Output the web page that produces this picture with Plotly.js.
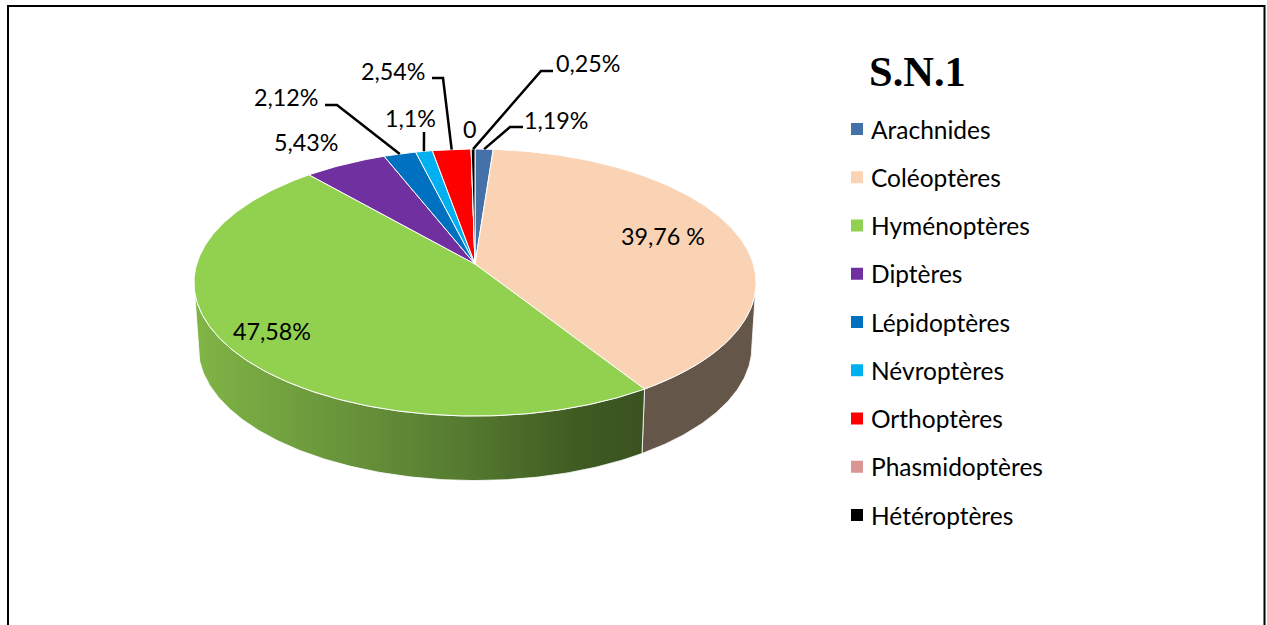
<!DOCTYPE html>
<html>
<head>
<meta charset="utf-8">
<script src="https://cdn.plot.ly/plotly-3.0.1.min.js"></script>
<style>
  html, body { margin: 0; padding: 0; background: #fff; overflow: hidden; }
</style>
</head>
<body>
<div id="graph" style="width:1267px;height:625px"></div>
<script>
const categories = ['Arachnides', 'Coléoptères', 'Hyménoptères', 'Diptères', 'Lépidoptères', 'Névroptères', 'Orthoptères', 'Phasmidoptères', 'Hétéroptères'];
const percents = [1.19, 39.76, 47.58, 5.43, 2.12, 1.1, 2.54, 0, 0.25];
const valueLabels = ['1,19%', '39,76 %', '47,58%', '5,43%', '2,12%', '1,1%', '2,54%', '0', '0,25%'];
const colors = ['#4472A8', '#FAD3B5', '#92D050', '#7030A0', '#0070C0', '#00B0F0', '#FF0000', '#D99694', '#000000'];
const titleText = 'S.N.1';

// label centre, then the elbow of the leader line if there is one
const labelSpots = [
    { x: 556, y: 120, from: [[523, 127], [510, 127]] },
    { x: 663, y: 236 },
    { x: 272, y: 331 },
    { x: 306, y: 142 },
    { x: 286, y: 97, from: [[325, 105], [337, 105]] },
    { x: 410, y: 118, from: [[424, 132]] },
    { x: 393, y: 71, from: [[432, 78], [443, 78]] },
    { x: 470, y: 129 },
    { x: 588, y: 63, from: [[553, 71], [541, 71]] }
];

// pie projection, the near side of the disc is larger than the far side
const cx = 475, cy = 264, rx = 278.3, ry = 130.9, persp = 0.139;
const depth = 64.5, wallScale = 0.985;

function rim(theta) {
    const u = Math.sin(theta), v = -Math.cos(theta);
    const d = 1 - persp * v;
    return [cx + rx * u / d, cy + ry * v / d];
}

function angles(a, b) {
    const out = [];
    const n = Math.max(2, Math.ceil((b - a) * 90));
    for (let i = 0; i <= n; i++) out.push(a + (b - a) * i / n);
    return out;
}

const total = percents.reduce((s, p) => s + p, 0);
const traces = [];
const annotations = [];
const frontStart = Math.acos(-persp);
const frontEnd = 2 * Math.PI - frontStart;

let cum = 0;
const slices = percents.map(p => {
    const a = cum / total * 2 * Math.PI;
    cum += p;
    return { a: a, b: cum / total * 2 * Math.PI };
});

// side wall first, only the part facing the viewer
slices.forEach((s, i) => {
    const a = Math.max(s.a, frontStart), b = Math.min(s.b, frontEnd);
    if (b <= a) return;
    const top = angles(a, b).map(rim);
    const bottom = top.map(p => [cx + (p[0] - cx) * wallScale, p[1] + depth]).reverse();
    const pts = top.concat(bottom);
    pts.push(pts[0]);
    const t = {
        x: pts.map(p => p[0]), y: pts.map(p => p[1]),
        mode: 'lines', fill: 'toself',
        line: { color: '#FFFFFF', width: 0.8 },
        hoverinfo: 'skip', showlegend: false
    };
    if (i === 2) {
        t.fillcolor = '#6F9A3D';
        t.fillgradient = { type: 'horizontal', colorscale: [[0, '#80B546'], [0.25, '#6E9C3D'], [0.6, '#557A30'], [0.85, '#3F5B22'], [1, '#3A5220']] };
    } else {
        t.fillcolor = '#65564A';
    }
    traces.push(t);
});

// top of the pie
slices.forEach((s, i) => {
    const pts = [[cx, cy]].concat(angles(s.a, s.b).map(rim));
    pts.push([cx, cy]);
    traces.push({
        x: pts.map(p => p[0]), y: pts.map(p => p[1]),
        mode: 'lines', fill: 'toself', fillcolor: colors[i],
        line: { color: '#FFFFFF', width: 1 },
        name: categories[i], text: valueLabels[i], hoverinfo: 'name+text', showlegend: false
    });
});

// value labels and leader lines
slices.forEach((s, i) => {
    const spot = labelSpots[i];
    annotations.push({
        x: spot.x, y: spot.y, text: valueLabels[i], showarrow: false,
        xanchor: 'center', yanchor: 'middle',
        font: { family: 'Lato', size: 23.3, color: '#000' }
    });
    if (spot.from) {
        const pts = spot.from.concat([rim((s.a + s.b) / 2)]);
        traces.push({
            x: pts.map(p => p[0]), y: pts.map(p => p[1]),
            mode: 'lines', line: { color: '#000', width: 2.5 },
            hoverinfo: 'skip', showlegend: false
        });
    }
});

// legend column
const legendYs = categories.map((c, i) => 129 + i * 48.25);
traces.push({
    x: categories.map(() => 857), y: legendYs,
    mode: 'markers',
    marker: { symbol: 'square', size: 12, color: colors, line: { width: 0 } },
    text: categories, hoverinfo: 'text', showlegend: false
});
categories.forEach((c, i) => {
    annotations.push({
        x: 869, y: legendYs[i], text: c, showarrow: false,
        xanchor: 'left', yanchor: 'middle',
        font: { family: 'Lato', size: 24.5, color: '#000' }
    });
});

annotations.push({
    x: 917.5, y: 71, text: '<b>' + titleText + '</b>', showarrow: false,
    xanchor: 'center', yanchor: 'middle',
    font: { family: 'Liberation Serif', size: 42.5, color: '#000' }
});

const hiddenAxis = { visible: false, fixedrange: true, showgrid: false, zeroline: false };

Plotly.newPlot('graph', traces, {
    width: 1267,
    height: 625,
    margin: { l: 0, r: 0, t: 0, b: 0 },
    paper_bgcolor: '#FFFFFF',
    plot_bgcolor: '#FFFFFF',
    showlegend: false,
    xaxis: Object.assign({ range: [0, 1267] }, hiddenAxis),
    yaxis: Object.assign({ range: [625, 0] }, hiddenAxis),
    annotations: annotations,
    shapes: [{
        type: 'path', xref: 'x', yref: 'y',
        path: 'M8,626 L8,6 L1264.5,6 L1264.5,626',
        line: { color: '#000', width: 2 }
    }]
}, { displayModeBar: false });
</script>
</body>
</html>
